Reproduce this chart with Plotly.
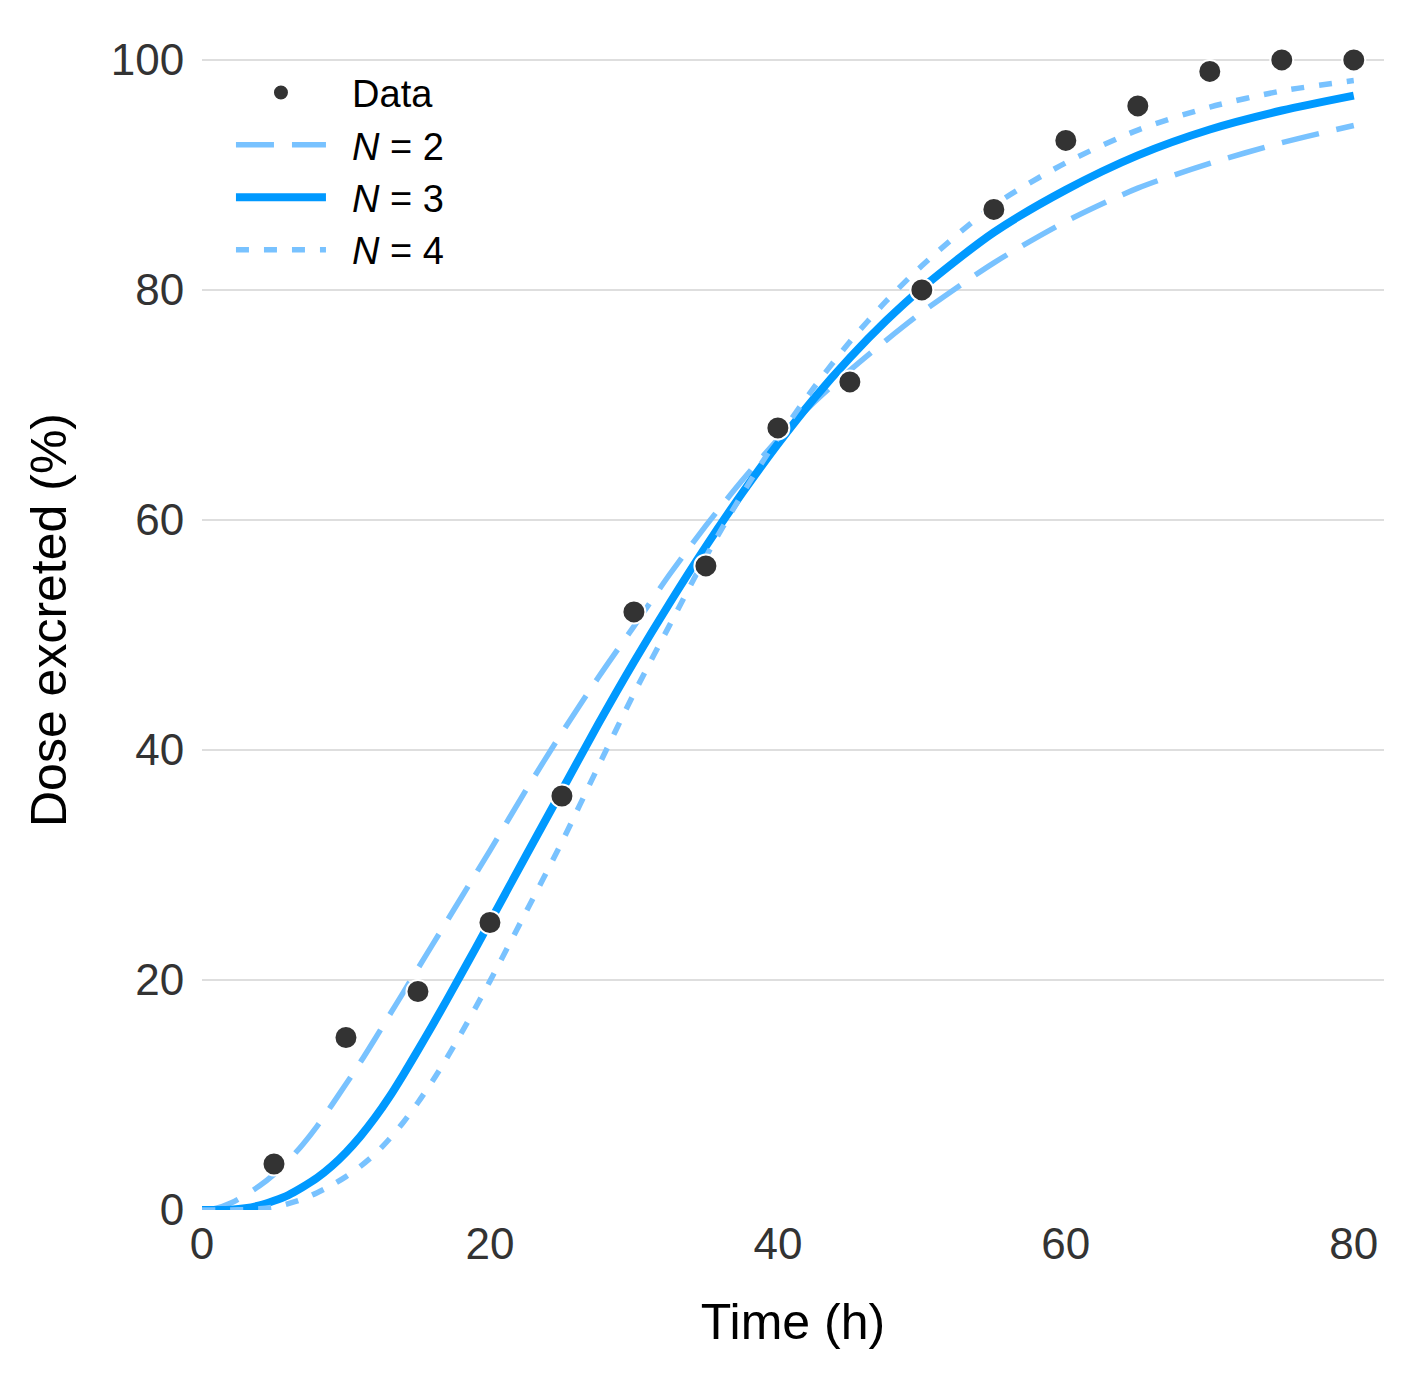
import plotly.graph_objects as go

# Observed data
time_obs = [5, 10, 15, 20, 25, 30, 35, 40, 45, 50, 55, 60, 65, 70, 75, 80]
dose_obs = [4, 15, 19, 25, 36, 52, 56, 68, 72, 80, 87, 93, 96, 99, 100, 100]

# Fitted curves
t_n2 = [0, 1, 2, 3, 4, 5, 6, 7, 8, 9, 10, 11, 12, 13, 14, 15, 16, 17, 18, 19, 20,
        22.5, 25, 27.5, 30, 32.5, 35, 37.5, 40, 42.5, 45, 47.5, 50, 55, 60, 65, 70, 75, 80]
y_n2 = [0, 0.15, 0.6, 1.3, 2.1, 3.1, 4.3, 5.7, 7.3, 9.1, 10.95, 12.85, 14.85, 16.9, 18.95,
        21.0, 23.05, 25.1, 27.15, 29.2, 31.25, 36.5, 41.5, 46.25, 50.75, 55.3, 59.5, 63.4,
        67.0, 70.2, 73.0, 75.6, 78.05, 82.35, 85.95, 88.85, 91.0, 92.8, 94.3]

t_n3 = [0, 1, 2, 3, 4, 5, 6, 7, 8, 9, 10, 11, 12, 13, 14, 15, 16, 17, 18, 19, 20,
        22.5, 25, 27.5, 30, 32.5, 35, 37.5, 40, 42.5, 45, 47.5, 50, 55, 60, 65, 70, 75, 80]
y_n3 = [0, 0, 0.03, 0.15, 0.4, 0.8, 1.3, 2.0, 2.8, 3.8, 5.0, 6.4, 8.0, 9.8, 11.8, 13.9,
        16.05, 18.25, 20.5, 22.75, 25.05, 30.8, 36.5, 42.2, 47.65, 52.8, 57.7, 62.3, 66.6,
        70.55, 74.1, 77.3, 80.15, 85.0, 88.7, 91.7, 93.95, 95.6, 96.9]

t_n4 = [0, 1, 2, 3, 4, 5, 6, 7, 8, 9, 10, 11, 12, 13, 14, 15, 16, 17, 18, 19, 20,
        22.5, 25, 27.5, 30, 32.5, 35, 37.5, 40, 42.5, 45, 47.5, 50, 55, 60, 65, 70, 75, 80]
y_n4 = [0, 0, 0, 0.03, 0.1, 0.25, 0.55, 0.95, 1.5, 2.15, 2.9, 3.8, 4.85, 6.15, 7.65, 9.35,
        11.2, 13.2, 15.35, 17.6, 19.9, 25.9, 32.0, 38.5, 44.9, 50.9, 56.8, 62.2, 67.1,
        71.5, 75.5, 79.0, 82.1, 87.35, 91.05, 93.9, 95.9, 97.3, 98.2]

x_ticks = [0, 20, 40, 60, 80]
y_ticks = [0, 20, 40, 60, 80, 100]

DARK = "rgb(0,153,255)"
LIGHT = "rgb(120,194,255)"
FONT = "Liberation Sans, Arial, Helvetica, sans-serif"
PAD = "\u00a0\u00a0"

fig = go.Figure()
fig.add_trace(go.Scatter(
    x=t_n2, y=y_n2, mode="lines", name=PAD + "<i>N</i> = 2", legendrank=2,
    line=dict(color=LIGHT, width=5.5, dash="38px,18px", shape="spline", smoothing=0.8),
))
fig.add_trace(go.Scatter(
    x=t_n3, y=y_n3, mode="lines", name=PAD + "<i>N</i> = 3", legendrank=3,
    line=dict(color=DARK, width=8, shape="spline", smoothing=0.8),
))
fig.add_trace(go.Scatter(
    x=t_n4, y=y_n4, mode="lines", name=PAD + "<i>N</i> = 4", legendrank=4,
    line=dict(color=LIGHT, width=5.5, dash="13px,15px", shape="spline", smoothing=0.8),
))
fig.add_trace(go.Scatter(
    x=time_obs, y=dose_obs, mode="markers", name=PAD + "Data", legendrank=1,
    marker=dict(color="#333333", size=23, line=dict(color="white", width=2)),
))
for tr in fig.data:
    tr.cliponaxis = False

fig.update_layout(
    width=1414, height=1382,
    margin=dict(l=202, r=30, t=30, b=172),
    paper_bgcolor="white", plot_bgcolor="white",
    font=dict(family=FONT, color="black"),
    showlegend=True,
    legend=dict(
        x=0.0245, y=0.9735, xanchor="left", yanchor="top",
        bgcolor="rgba(0,0,0,0)", font=dict(size=38, color="black"),
        traceorder="normal", itemwidth=90, tracegroupgap=0,
    ),
    xaxis=dict(
        range=[0, 82.1], tickvals=x_ticks, showgrid=False, zeroline=False,
        showline=False, ticks="", ticklabelstandoff=4,
        tickfont=dict(size=44, color="#333333"),
        title=dict(text="Time (h)", font=dict(size=50, color="black"), standoff=36),
    ),
    yaxis=dict(
        range=[0, 102.6], tickvals=y_ticks, showgrid=True, gridcolor="#DEDEDE",
        gridwidth=1.5, zeroline=False, showline=False, ticks="outside", ticklen=8,
        tickcolor="rgba(0,0,0,0)", tickfont=dict(size=44, color="#333333"),
        title=dict(text="Dose excreted (%)", font=dict(size=50, color="black"), standoff=28),
    ),
)

fig.write_html("out.html")
